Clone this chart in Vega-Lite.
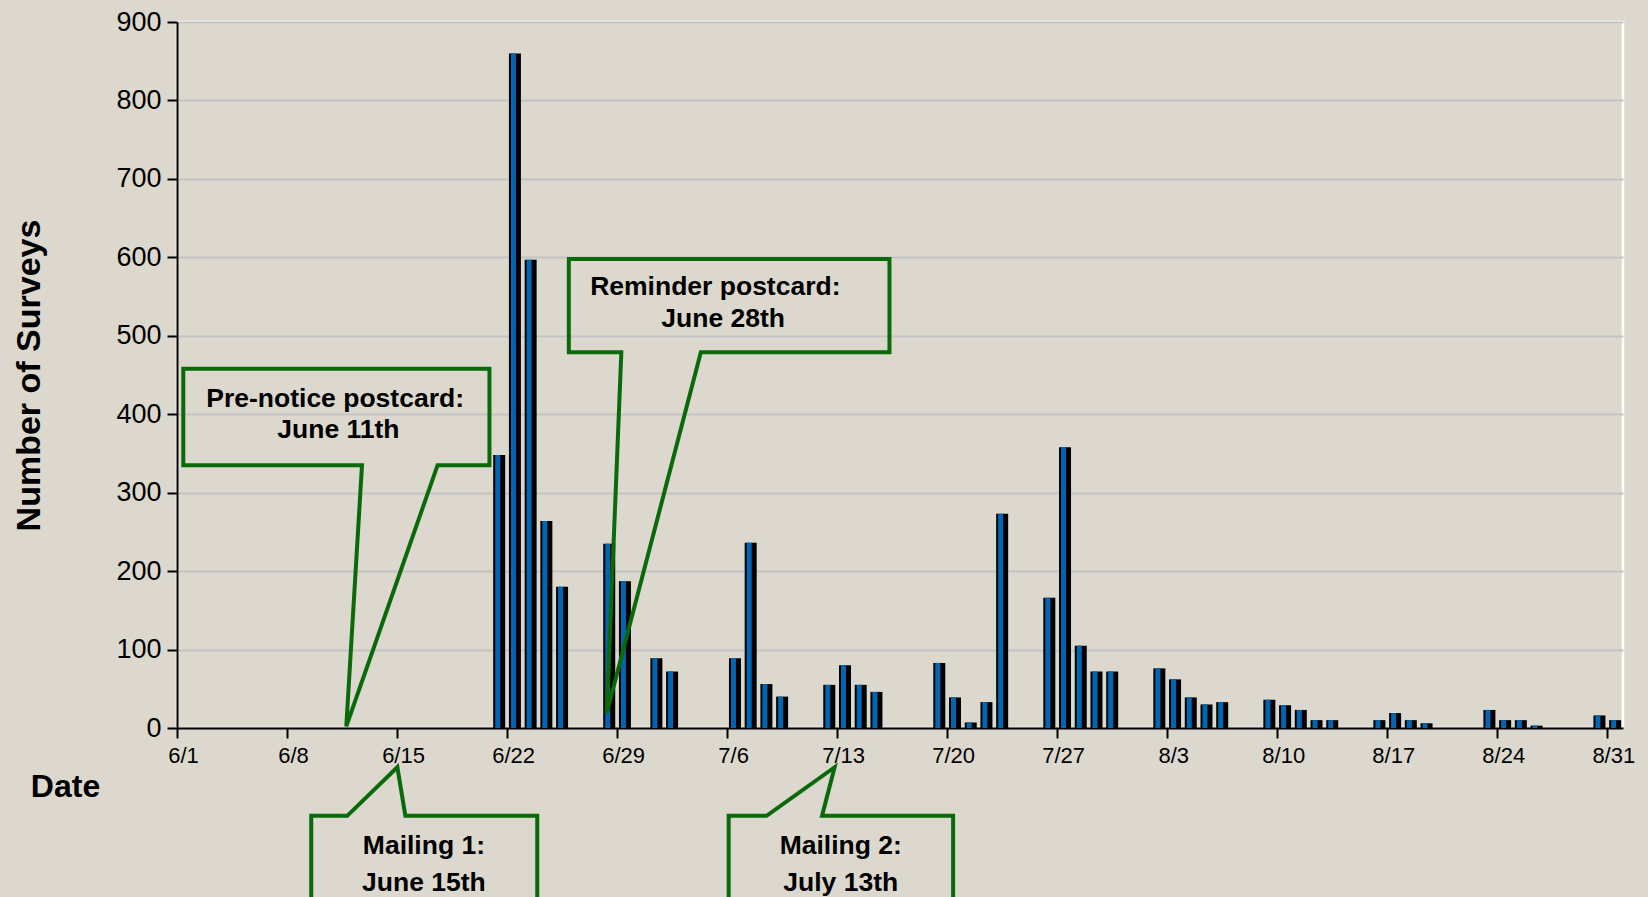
{
  "$schema": "https://vega.github.io/schema/vega-lite/v6.json",
  "width": 1446,
  "height": 706,
  "autosize": {"type": "none"},
  "padding": {"left": 177, "top": 22, "right": 25, "bottom": 169},
  "background": "#DCD8CE",
  "config": {
    "view": {"stroke": "#FFFFFF", "strokeWidth": 2.5},
    "font": "Liberation Sans"
  },
  "datasets": {
    "surveys": [
      {"date": "2009-06-21", "surveys": 348},
      {"date": "2009-06-22", "surveys": 860},
      {"date": "2009-06-23", "surveys": 597},
      {"date": "2009-06-24", "surveys": 264},
      {"date": "2009-06-25", "surveys": 180},
      {"date": "2009-06-28", "surveys": 235},
      {"date": "2009-06-29", "surveys": 187},
      {"date": "2009-07-01", "surveys": 89},
      {"date": "2009-07-02", "surveys": 72},
      {"date": "2009-07-06", "surveys": 89},
      {"date": "2009-07-07", "surveys": 236},
      {"date": "2009-07-08", "surveys": 56},
      {"date": "2009-07-09", "surveys": 40},
      {"date": "2009-07-12", "surveys": 55},
      {"date": "2009-07-13", "surveys": 80},
      {"date": "2009-07-14", "surveys": 55},
      {"date": "2009-07-15", "surveys": 46},
      {"date": "2009-07-19", "surveys": 83},
      {"date": "2009-07-20", "surveys": 39},
      {"date": "2009-07-21", "surveys": 7},
      {"date": "2009-07-22", "surveys": 33},
      {"date": "2009-07-23", "surveys": 273},
      {"date": "2009-07-26", "surveys": 166},
      {"date": "2009-07-27", "surveys": 358},
      {"date": "2009-07-28", "surveys": 105},
      {"date": "2009-07-29", "surveys": 72},
      {"date": "2009-07-30", "surveys": 72},
      {"date": "2009-08-02", "surveys": 76},
      {"date": "2009-08-03", "surveys": 62},
      {"date": "2009-08-04", "surveys": 39},
      {"date": "2009-08-05", "surveys": 30},
      {"date": "2009-08-06", "surveys": 33},
      {"date": "2009-08-09", "surveys": 36},
      {"date": "2009-08-10", "surveys": 29},
      {"date": "2009-08-11", "surveys": 23},
      {"date": "2009-08-12", "surveys": 10},
      {"date": "2009-08-13", "surveys": 10},
      {"date": "2009-08-16", "surveys": 10},
      {"date": "2009-08-17", "surveys": 19},
      {"date": "2009-08-18", "surveys": 10},
      {"date": "2009-08-19", "surveys": 6},
      {"date": "2009-08-23", "surveys": 23},
      {"date": "2009-08-24", "surveys": 10},
      {"date": "2009-08-25", "surveys": 10},
      {"date": "2009-08-26", "surveys": 3},
      {"date": "2009-08-30", "surveys": 16},
      {"date": "2009-08-31", "surveys": 10}
    ],
    "callouts": [
      {"callout": "pre", "i": 0, "t": "2009-06-01T09:36:00Z", "v": 458},
      {"callout": "pre", "i": 1, "t": "2009-06-20T21:07:00Z", "v": 458},
      {"callout": "pre", "i": 2, "t": "2009-06-20T21:07:00Z", "v": 335},
      {"callout": "pre", "i": 3, "t": "2009-06-17T13:55:00Z", "v": 335},
      {"callout": "pre", "i": 4, "t": "2009-06-11T18:29:00Z", "v": 2},
      {"callout": "pre", "i": 5, "t": "2009-06-12T18:29:00Z", "v": 335},
      {"callout": "pre", "i": 6, "t": "2009-06-01T09:36:00Z", "v": 335},
      {"callout": "pre", "i": 7, "t": "2009-06-01T09:36:00Z", "v": 458},
      {"callout": "rem", "i": 0, "t": "2009-06-25T22:19:00Z", "v": 598},
      {"callout": "rem", "i": 1, "t": "2009-07-16T07:55:00Z", "v": 598},
      {"callout": "rem", "i": 2, "t": "2009-07-16T07:55:00Z", "v": 479},
      {"callout": "rem", "i": 3, "t": "2009-07-04T07:55:00Z", "v": 479},
      {"callout": "rem", "i": 4, "t": "2009-06-28T08:10:00Z", "v": 19},
      {"callout": "rem", "i": 5, "t": "2009-06-29T06:29:00Z", "v": 479},
      {"callout": "rem", "i": 6, "t": "2009-06-25T22:19:00Z", "v": 479},
      {"callout": "rem", "i": 7, "t": "2009-06-25T22:19:00Z", "v": 598},
      {"callout": "m1", "i": 0, "t": "2009-06-09T12:58:00Z", "v": -112},
      {"callout": "m1", "i": 1, "t": "2009-06-11T19:55:00Z", "v": -112},
      {"callout": "m1", "i": 2, "t": "2009-06-15T00:29:00Z", "v": -50},
      {"callout": "m1", "i": 3, "t": "2009-06-15T12:43:00Z", "v": -112},
      {"callout": "m1", "i": 4, "t": "2009-06-23T22:05:00Z", "v": -112},
      {"callout": "m1", "i": 5, "t": "2009-06-23T22:05:00Z", "v": -260},
      {"callout": "m1", "i": 6, "t": "2009-06-09T12:58:00Z", "v": -260},
      {"callout": "m1", "i": 7, "t": "2009-06-09T12:58:00Z", "v": -112},
      {"callout": "m2", "i": 0, "t": "2009-07-06T02:24:00Z", "v": -112},
      {"callout": "m2", "i": 1, "t": "2009-07-08T12:14:00Z", "v": -112},
      {"callout": "m2", "i": 2, "t": "2009-07-12T20:10:00Z", "v": -50},
      {"callout": "m2", "i": 3, "t": "2009-07-12T00:58:00Z", "v": -112},
      {"callout": "m2", "i": 4, "t": "2009-07-20T09:07:00Z", "v": -112},
      {"callout": "m2", "i": 5, "t": "2009-07-20T09:07:00Z", "v": -260},
      {"callout": "m2", "i": 6, "t": "2009-07-06T02:24:00Z", "v": -260},
      {"callout": "m2", "i": 7, "t": "2009-07-06T02:24:00Z", "v": -112}
    ],
    "labels": [
      {"text": "Pre-notice postcard:", "t": "2009-06-11T01:26:00Z", "v": 420},
      {"text": "June 11th", "t": "2009-06-11T06:29:00Z", "v": 380},
      {"text": "Reminder postcard:", "t": "2009-07-05T06:00:00Z", "v": 562},
      {"text": "June 28th", "t": "2009-07-05T18:00:00Z", "v": 522},
      {"text": "Mailing 1:", "t": "2009-06-16T17:02:00Z", "v": -150},
      {"text": "June 15th", "t": "2009-06-16T17:02:00Z", "v": -197},
      {"text": "Mailing 2:", "t": "2009-07-13T05:31:00Z", "v": -150},
      {"text": "July 13th", "t": "2009-07-13T05:31:00Z", "v": -197}
    ]
  },
  "layer": [
    {
      "data": {"name": "surveys"},
      "mark": {"type": "bar", "width": 12, "color": "#000000"},
      "encoding": {
        "x": {
          "field": "date",
          "type": "temporal",
          "timeUnit": "utcyearmonthdate",
          "bandPosition": 0.5,
          "title": "Date",
          "scale": {
            "type": "utc",
            "domain": [
              {"year": 2009, "month": 6, "date": 1, "utc": true},
              {"year": 2009, "month": 9, "date": 1, "utc": true}
            ]
          },
          "axis": {
            "titleFontSize": 32,
            "titleFontWeight": "bold",
            "titleColor": "#000000",
            "titleX": -112,
            "titleY": 58,
            "titleAlign": "center",
            "titleBaseline": "middle",
            "values": [
              {"year": 2009, "month": 6, "date": 1, "utc": true},
              {"year": 2009, "month": 6, "date": 8, "utc": true},
              {"year": 2009, "month": 6, "date": 15, "utc": true},
              {"year": 2009, "month": 6, "date": 22, "utc": true},
              {"year": 2009, "month": 6, "date": 29, "utc": true},
              {"year": 2009, "month": 7, "date": 6, "utc": true},
              {"year": 2009, "month": 7, "date": 13, "utc": true},
              {"year": 2009, "month": 7, "date": 20, "utc": true},
              {"year": 2009, "month": 7, "date": 27, "utc": true},
              {"year": 2009, "month": 8, "date": 3, "utc": true},
              {"year": 2009, "month": 8, "date": 10, "utc": true},
              {"year": 2009, "month": 8, "date": 17, "utc": true},
              {"year": 2009, "month": 8, "date": 24, "utc": true},
              {"year": 2009, "month": 8, "date": 31, "utc": true}
            ],
            "labelExpr": "utcFormat(datum.value, '%-m/%-d')",
            "labelFontSize": 22,
            "labelColor": "#000000",
            "labelPadding": 7,
            "labelOffset": 6,
            "labelFlush": false,
            "labelOverlap": false,
            "tickColor": "#000000",
            "tickSize": 10,
            "tickWidth": 2,
            "domainColor": "#000000",
            "domainWidth": 2,
            "grid": false
          }
        },
        "y": {
          "field": "surveys",
          "type": "quantitative",
          "title": "Number of Surveys",
          "scale": {"domain": [0, 900], "nice": false},
          "axis": {
            "titleFontSize": 34,
            "titleFontWeight": "bold",
            "titleColor": "#000000",
            "titleX": -148,
            "titleBaseline": "middle",
            "values": [0, 100, 200, 300, 400, 500, 600, 700, 800, 900],
            "labelFontSize": 27,
            "labelColor": "#000000",
            "labelPadding": 6,
            "tickColor": "#000000",
            "tickSize": 10,
            "tickWidth": 2,
            "domainColor": "#000000",
            "domainWidth": 2,
            "grid": true,
            "gridColor": "#C3C3C3",
            "gridWidth": 2
          }
        }
      }
    },
    {
      "data": {"name": "surveys"},
      "mark": {"type": "bar", "width": 5, "xOffset": -1.5, "yOffset": 0, "y2Offset": 5, "color": "#0066B3"},
      "encoding": {
        "x": {"field": "date", "type": "temporal", "timeUnit": "utcyearmonthdate", "bandPosition": 0.5, "title": "Date"},
        "y": {"field": "surveys", "type": "quantitative", "title": "Number of Surveys"}
      }
    },
    {
      "data": {"name": "callouts"},
      "mark": {"type": "line", "color": "#0A6A0A", "strokeWidth": 4, "strokeJoin": "miter", "strokeCap": "square"},
      "encoding": {
        "x": {"field": "t", "type": "temporal", "title": "Date"},
        "y": {"field": "v", "type": "quantitative", "title": "Number of Surveys"},
        "detail": {"field": "callout"},
        "order": {"field": "i", "type": "quantitative"}
      }
    },
    {
      "data": {"name": "labels"},
      "mark": {"type": "text", "fontWeight": "bold", "fontSize": 26.5, "color": "#000000", "baseline": "middle", "align": "center"},
      "encoding": {
        "x": {"field": "t", "type": "temporal", "title": "Date"},
        "y": {"field": "v", "type": "quantitative", "title": "Number of Surveys"},
        "text": {"field": "text"}
      }
    }
  ]
}
